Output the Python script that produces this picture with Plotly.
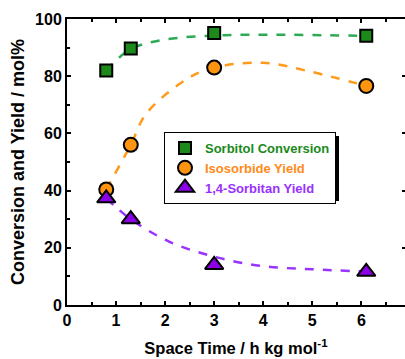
import plotly.graph_objects as go

# ---- data ----
space_time = [0.8, 1.3, 3.0, 6.1]
sorbitol_conv = [82.0, 89.7, 95.1, 94.1]
isosorbide_yield = [40.4, 56.0, 83.0, 76.6]
sorbitan_yield = [37.3, 30.0, 14.0, 11.6]

# guide curves (dashed)
fit_x_conv = [0.8, 1.3, 2.0, 3.0, 4.0, 5.0, 6.1]
fit_y_conv = [82.0, 89.5, 92.8, 94.2, 94.5, 94.4, 94.1]
fit_x_iso = [0.8, 1.3, 1.62, 2.47, 3.0, 3.98, 4.96, 6.1]
fit_y_iso = [40.4, 56.0, 67.0, 79.3, 83.0, 84.7, 81.6, 76.6]
fit_x_sorb = [0.8, 1.3, 2.09, 3.0, 3.98, 5.0, 6.1]
fit_y_sorb = [37.3, 30.0, 22.1, 16.9, 13.6, 12.5, 11.7]

x_ticks = [0, 1, 2, 3, 4, 5, 6, 7]
y_ticks = [0, 20, 40, 60, 80, 100]

GREEN_M, GREEN_L, GREEN_T = "#1b8a1b", "#2eaa55", "#1a8a1a"
ORANGE_M, ORANGE_L, ORANGE_T = "#ff9410", "#ff9a1a", "#ff8a1a"
PURPLE_M, PURPLE_L, PURPLE_T = "#8c00e6", "#9a33ff", "#9a30ff"

FONT = "Liberation Sans, Arial, sans-serif"

fig = go.Figure()

for fx, fy, col in [(fit_x_conv, fit_y_conv, GREEN_L),
                    (fit_x_iso, fit_y_iso, ORANGE_L),
                    (fit_x_sorb, fit_y_sorb, PURPLE_L)]:
    fig.add_trace(go.Scatter(x=fx, y=fy, mode="lines", line_shape="spline",
                             line=dict(color=col, width=2.5, dash="dash"),
                             showlegend=False, hoverinfo="skip"))

fig.add_trace(go.Scatter(
    x=space_time, y=sorbitol_conv, mode="markers",
    name=f"<b><span style='color:{GREEN_T}'>Sorbitol Conversion</span></b>",
    marker=dict(symbol="square", size=12, color=GREEN_M,
                line=dict(color="black", width=2))))
fig.add_trace(go.Scatter(
    x=space_time, y=isosorbide_yield, mode="markers",
    name=f"<b><span style='color:{ORANGE_T}'>Isosorbide Yield</span></b>",
    marker=dict(symbol="circle", size=14, color=ORANGE_M,
                line=dict(color="black", width=2))))
fig.add_trace(go.Scatter(
    x=space_time, y=sorbitan_yield, mode="markers",
    name=f"<b><span style='color:{PURPLE_T}'>1,4-Sorbitan Yield</span></b>",
    marker=dict(symbol="triangle-up", size=16, color=PURPLE_M,
                line=dict(color="black", width=2))))

# invisible trace for right-side ticks
fig.add_trace(go.Scatter(x=[None], y=[None], yaxis="y2", showlegend=False,
                         hoverinfo="skip"))

L, T, B, W, H = 67, 19, 54, 405, 359
pw, ph = W - L, H - T - B


def px_to_paper(px, py):
    return (px - L) / pw, (H - B - py) / ph


# legend drop shadow
sx0, sy0 = px_to_paper(168, 136)
sx1, sy1 = px_to_paper(339, 201)
fig.add_shape(type="rect", xref="paper", yref="paper", x0=sx0, x1=sx1,
              y0=sy1, y1=sy0, fillcolor="black", line=dict(width=0),
              layer="above")

lx, ly = px_to_paper(164, 132)

fig.update_layout(
    width=W, height=H,
    margin=dict(l=L, r=0, t=T, b=B),
    plot_bgcolor="white", paper_bgcolor="white",
    font=dict(family=FONT, color="black"),
    showlegend=True,
    legend=dict(x=lx, y=ly, xanchor="left", yanchor="top",
                bgcolor="white", bordercolor="black", borderwidth=1,
                font=dict(family=FONT, size=13),
                tracegroupgap=0, itemsizing="trace"),
    xaxis=dict(range=[0, 6.89], tickvals=x_ticks,
               ticktext=[f"<b>{v}</b>" for v in x_ticks],
               ticks="inside", ticklen=4,
               tickwidth=2, tickcolor="black", showline=True, linewidth=2,
               linecolor="black", mirror="ticks", showgrid=False, zeroline=False,
               minor=dict(dtick=0.5, ticks="inside", ticklen=3, tickwidth=2,
                          tickcolor="black", showgrid=False),
               tickfont=dict(size=16),
               title=dict(text="<b>Space Time / h kg mol<sup>-1</sup></b>",
                          font=dict(size=16.5), standoff=14)),
    yaxis=dict(range=[0, 100], tickvals=y_ticks,
               ticktext=[f"<b>{v}</b>" for v in y_ticks],
               ticks="inside", ticklen=4,
               tickwidth=2, tickcolor="black", showline=True, linewidth=2,
               linecolor="black", showgrid=False, zeroline=False,
               minor=dict(dtick=10, ticks="inside", ticklen=3, tickwidth=2,
                          tickcolor="black", showgrid=False),
               tickfont=dict(size=16),
               title=dict(text="<b>Conversion and Yield / mol%</b>",
                          font=dict(size=18), standoff=6)),
    yaxis2=dict(range=[0, 100], overlaying="y", side="right",
                tickvals=[20, 40, 60, 80], ticks="inside", ticklen=3,
                tickwidth=2, tickcolor="black", showticklabels=False,
                showline=False, showgrid=False, zeroline=False),
)

fig.write_html("out.html")
